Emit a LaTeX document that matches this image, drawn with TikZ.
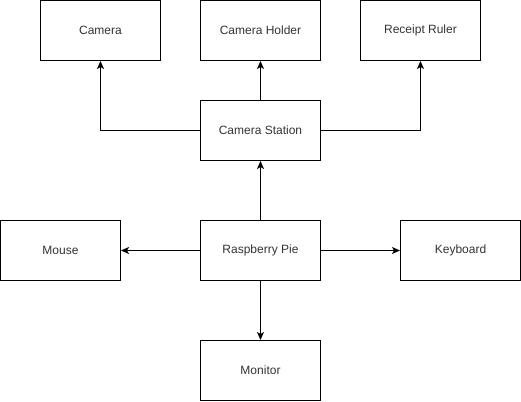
\documentclass[tikz,border=0pt]{standalone}
\usepackage{fontspec}
\setmainfont{Liberation Sans}
\usetikzlibrary{arrows.meta}
\begin{document}
\begin{tikzpicture}[x=1pt,y=-1pt,
  box/.style={draw,line width=1pt,minimum width=120pt,minimum height=60pt,inner sep=0pt,font=\fontsize{12}{14}\selectfont,text=black!80},
  conn/.style={line width=1pt,-{Stealth[length=8pt,width=7pt,inset=2pt]}}]
\useasboundingbox (0,0) rectangle (521,401);
\node[box] (cam) at (100.5,30.5) {Camera};
\node[box] (hold) at (260.5,30.5) {Camera Holder};
\node[box] (ruler) at (420.5,30.5) {Receipt Ruler};
\node[box] (station) at (260.5,130.5) {Camera Station};
\node[box] (mouse) at (60.5,250.5) {Mouse};
\node[box] (pi) at (260.5,250.5) {Raspberry Pie};
\node[box] (kbd) at (460.5,250.5) {Keyboard};
\node[box] (mon) at (260.5,370.5) {Monitor};
\draw[conn] (station.west) -| (cam.south);
\draw[conn] (station.north) -- (hold.south);
\draw[conn] (station.east) -| (ruler.south);
\draw[conn] (pi.north) -- (station.south);
\draw[conn] (pi.west) -- (mouse.east);
\draw[conn] (pi.east) -- (kbd.west);
\draw[conn] (pi.south) -- (mon.north);
\end{tikzpicture}
\end{document}
